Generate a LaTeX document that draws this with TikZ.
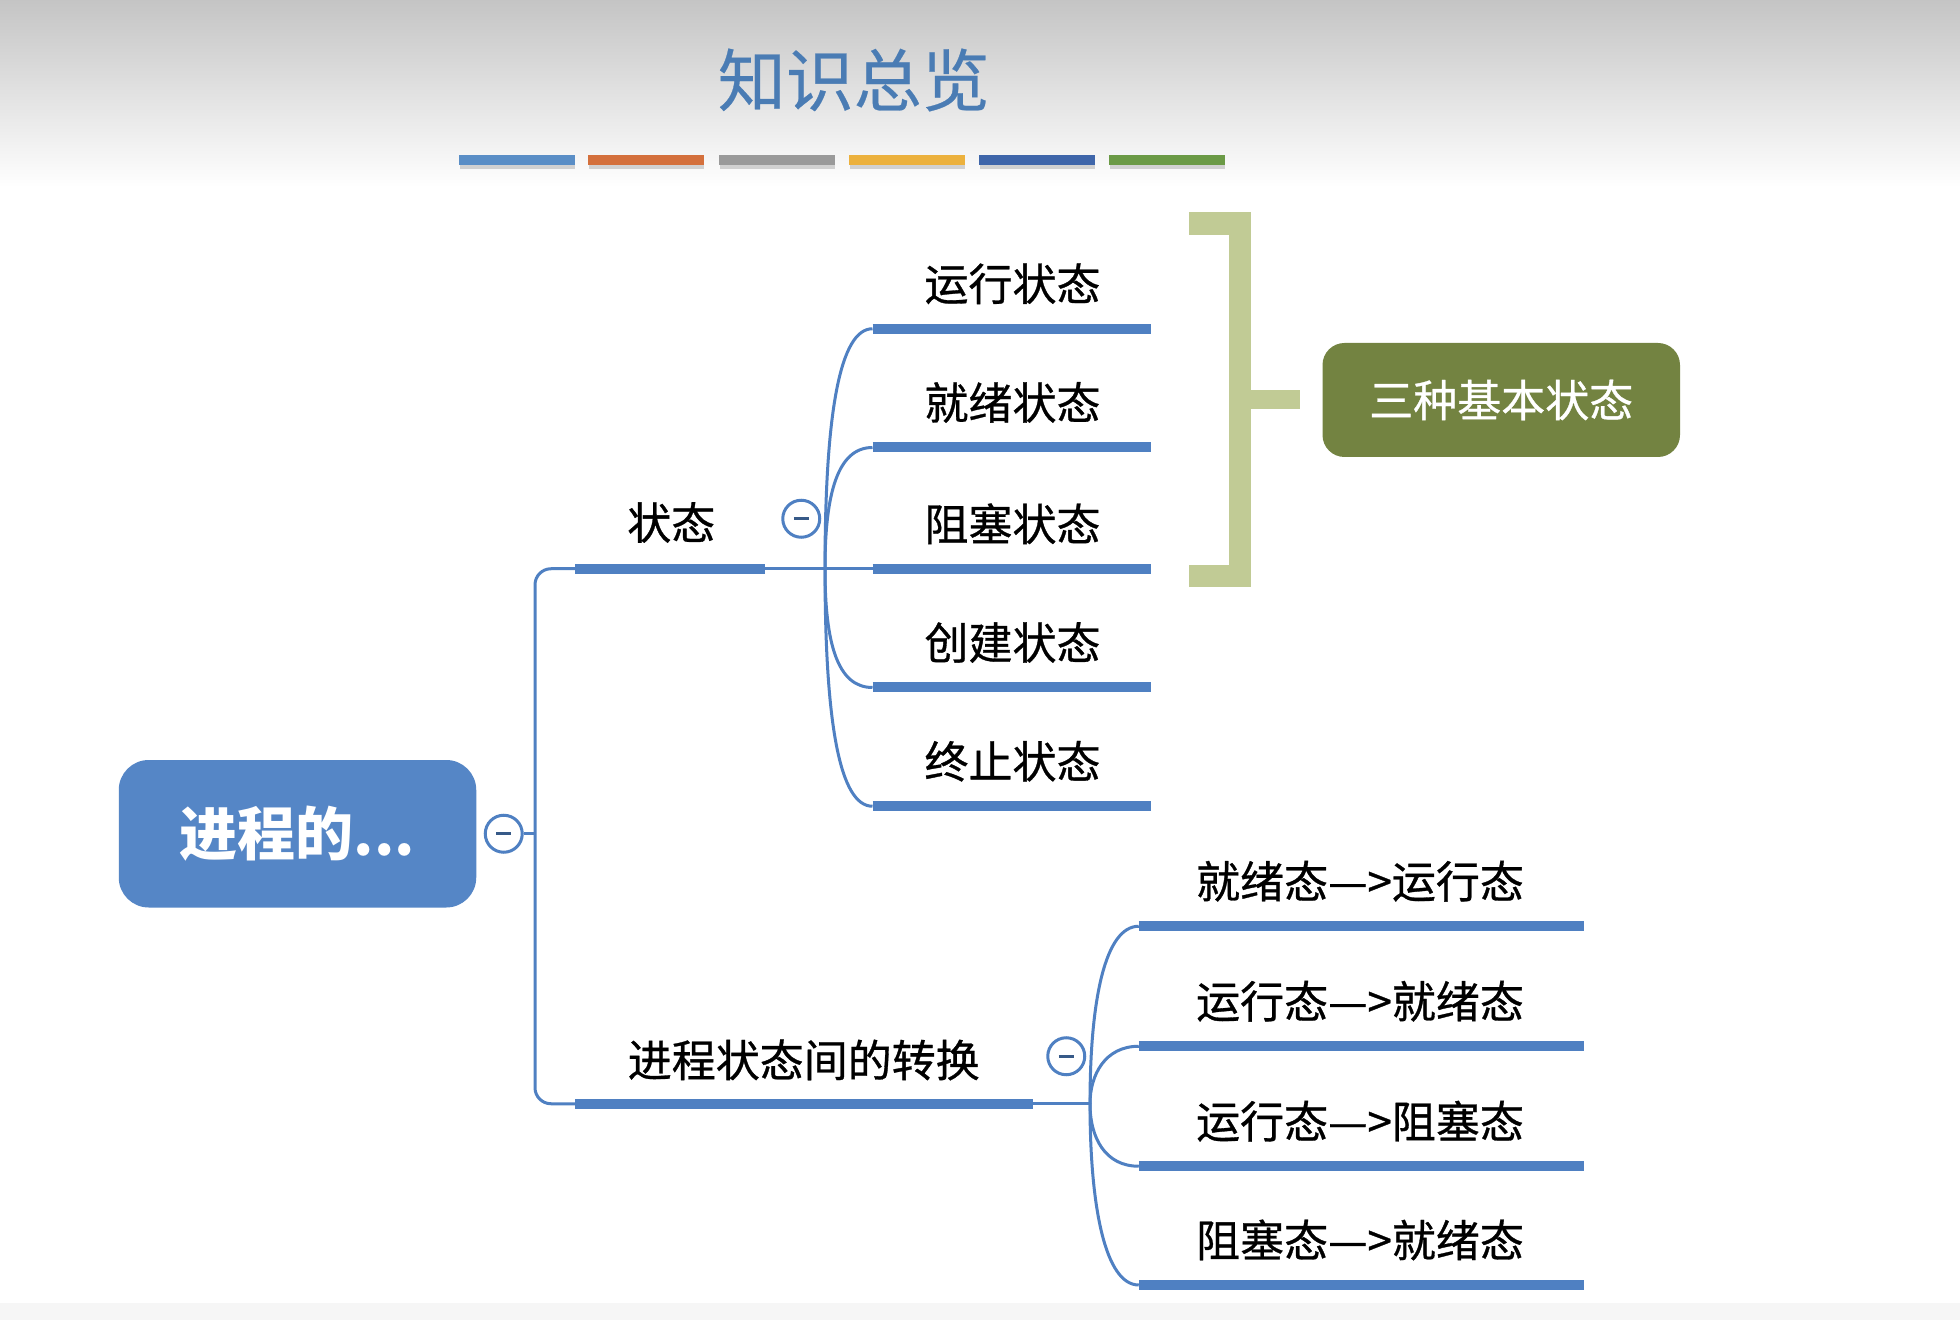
\documentclass[tikz,border=0pt]{standalone}
\usepackage{fontspec}
\setmainfont{Noto Sans CJK SC}
\newfontfamily\lblfont[FakeBold=0.7]{Noto Sans CJK SC}
\newfontfamily\ttlfont[FakeBold=0.4]{Noto Sans CJK SC}
\definecolor{lineblue}{HTML}{4F80C2}
\definecolor{rootblue}{HTML}{5586C6}
\definecolor{titleblue}{HTML}{4A7CB4}
\definecolor{olive}{HTML}{738341}
\definecolor{bracketgreen}{HTML}{C1CB95}
\definecolor{barA}{HTML}{5A8EC6}
\definecolor{barB}{HTML}{D4703C}
\definecolor{barC}{HTML}{9A9A9A}
\definecolor{barD}{HTML}{ECB13D}
\definecolor{barE}{HTML}{3F66AA}
\definecolor{barF}{HTML}{6B9A46}
\tikzset{
  thinline/.style={draw=lineblue, line width=1.5pt},
  thickline/.style={draw=lineblue, line width=5pt},
  label/.style={font=\lblfont\fontsize{22}{26}\selectfont, text=black, inner sep=0pt},
  collapse/.style={circle, draw=lineblue, fill=white, line width=1.5pt, minimum size=18.5pt, inner sep=0pt},
  minusmark/.style={draw=lineblue!70!black, line width=1.4pt},
  rootbox/.style={rounded corners=15pt, fill=rootblue, text=white, font=\fontsize{29}{34}\selectfont\bfseries, minimum width=178.75pt, minimum height=73.75pt, inner sep=0pt},
  greenbox/.style={rounded corners=11pt, fill=olive, text=white, font=\lblfont\fontsize{22}{26}\selectfont, minimum width=178.75pt, minimum height=57pt, inner sep=0pt}
}
\begin{document}
\begin{tikzpicture}[x=0.625pt,y=-0.625pt]
\useasboundingbox (0,0) rectangle (1568,1056);
\fill[white] (0,0) rectangle (1568,1056);
\shade[top color=gray!46, bottom color=white] (0,0) rectangle (1568,150);
\fill[gray!7] (0,1042) rectangle (1568,1056);
% title
\node[font=\ttlfont\fontsize{34}{40}\selectfont, text=titleblue, inner sep=0pt] (title) at (683,64) {知识总览};
% colour bars
\foreach \xa/\c [count=\i] in {367/barA,470/barB,575/barC,679/barD,783/barE,887/barF}{
  \fill[black!18] (\xa+1,131) rectangle (\xa+93,135);
  \fill[\c] (\xa,124) rectangle (\xa+93,132);
}
% root
\node[rootbox] (root) at (238,667) {进程的...};
\node[collapse] (c0) at (403,667) {};
\draw[minusmark] (397,667) -- (409,667);
\draw[thinline] (c0.east) -- (428,667);
\coordinate (b1) at (460,455);
\coordinate (b2) at (460,883);
\draw[thinline, rounded corners=8pt] (b1) -- (428,455) -- (428,883) -- (b2);
% branch 1
\node[label] (s) at (537,418) {状态};
\coordinate (b1e) at (612,455);
\draw[thickline] (b1) -- (b1e);
\coordinate (j1) at (660,455);
\draw[thinline] (b1e) -- (j1);
\node[collapse] (c1) at (641,415) {};
\draw[minusmark] (635,415) -- (647,415);
\foreach \y/\t/\n in {263/运行状态/r,358/就绪状态/j,455/阻塞状态/z,550/创建状态/c,645/终止状态/t}{
  \coordinate (\n a) at (698,\y);
  \coordinate (\n b) at (921,\y);
  \node[label] (\n) at (810,\y-36) {\t};
  \draw[thickline] (\n a) -- (\n b);
}
\draw[thinline] (j1) .. controls (660,330) and (672,263) .. (ra);
\draw[thinline] (j1) .. controls (660,395) and (670,358) .. (ja);
\draw[thinline] (j1) -- (za);
\draw[thinline] (j1) .. controls (660,515) and (670,550) .. (ca);
\draw[thinline] (j1) .. controls (660,580) and (672,645) .. (ta);
% bracket
\draw[bracketgreen, line width=11.25pt, line join=miter] (951,179) -- (992,179) -- (992,461) -- (951,461);
\coordinate (bk) at (992,320);
\node[greenbox] (three) at (1201,320) {三种基本状态};
\draw[bracketgreen, line width=9.5pt] (bk) -- (1040,320);
% branch 2
\node[label] (tr) at (643,848) {进程状态间的转换};
\coordinate (b2e) at (826,883);
\draw[thickline] (b2) -- (b2e);
\coordinate (j2) at (872,883);
\draw[thinline] (b2e) -- (j2);
\node[collapse] (c2) at (853,845) {};
\draw[minusmark] (847,845) -- (859,845);
\foreach \y/\t/\n in {741/就绪态—>运行态/p,837/运行态—>就绪态/q,933/运行态—>阻塞态/u,1028/阻塞态—>就绪态/v}{
  \coordinate (\n a) at (911,\y);
  \coordinate (\n b) at (1267,\y);
  \node[label] (\n) at (1088,\y-36) {\t};
  \draw[thickline] (\n a) -- (\n b);
}
\draw[thinline] (j2) .. controls (872,800) and (884,741) .. (pa);
\draw[thinline] (j2) .. controls (872,860) and (884,837) .. (qa);
\draw[thinline] (j2) .. controls (872,910) and (884,933) .. (ua);
\draw[thinline] (j2) .. controls (872,965) and (884,1028) .. (va);
\end{tikzpicture}
\end{document}
